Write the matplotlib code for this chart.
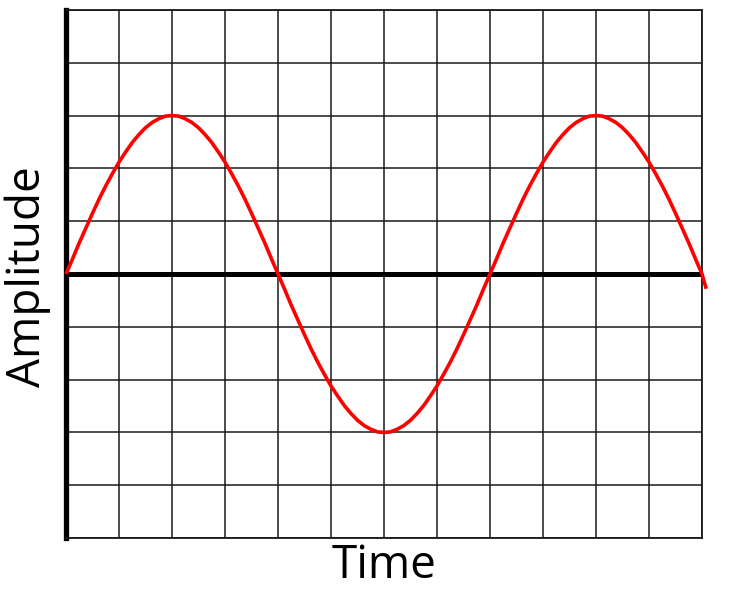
import matplotlib.pyplot as plt
import numpy as np

# Valores, cada 0.125 unidades de tiempo
subida = [0, 0.29, 0.59, 0.87, 1.15, 1.42, 1.67, 1.90, 2.12,
          2.31, 2.49, 2.64, 2.77, 2.87, 2.94, 2.99, 3.0]
medio_ciclo = subida + subida[-2:0:-1]  # sube y baja (0 ... 3 ... >0)
amplitud = medio_ciclo + [-v for v in medio_ciclo] + medio_ciclo + [0]
tiempo = np.arange(len(amplitud)) * 0.125
# la curva se pasa un poquito del borde derecho
tiempo_ext = list(tiempo) + [12.08]
amplitud_ext = amplitud + [-0.28]

x_ticks = np.arange(0, 13, 1)
y_ticks = np.arange(-5, 6, 1)

fig = plt.figure(figsize=(7.51, 6), dpi=100)
ax = fig.add_axes([66 / 751, 62 / 600, 636 / 751, 528 / 600])

ax.set_xlim(0, 12)
ax.set_ylim(-5, 5)
ax.set_xticks(x_ticks)
ax.set_yticks(y_ticks)
ax.grid(True, color='#1a1a1a', linewidth=1.1)
ax.tick_params(length=0, labelbottom=False, labelleft=False)

for lado in ['top', 'right', 'bottom']:
    ax.spines[lado].set_linewidth(1.3)
    ax.spines[lado].set_color('#1a1a1a')
ax.spines['left'].set_linewidth(3.8)
ax.spines['left'].set_color('black')

# eje cero grueso
ax.axhline(0, color='black', linewidth=3.6, zorder=3)

ax.plot(tiempo_ext, amplitud_ext, color='#ff0000', linewidth=2.6,
        zorder=4, clip_on=False, solid_capstyle='butt', solid_joinstyle='round')

fig.text(384 / 751, 1 - 566 / 600, 'Time', fontsize=33, family='Open Sans',
         ha='center', va='center')
fig.text(28 / 751, 1 - 277 / 600, 'Amplitude', fontsize=33, family='Open Sans',
         rotation=90, ha='center', va='center')

fig.savefig('out.png', dpi=100)
